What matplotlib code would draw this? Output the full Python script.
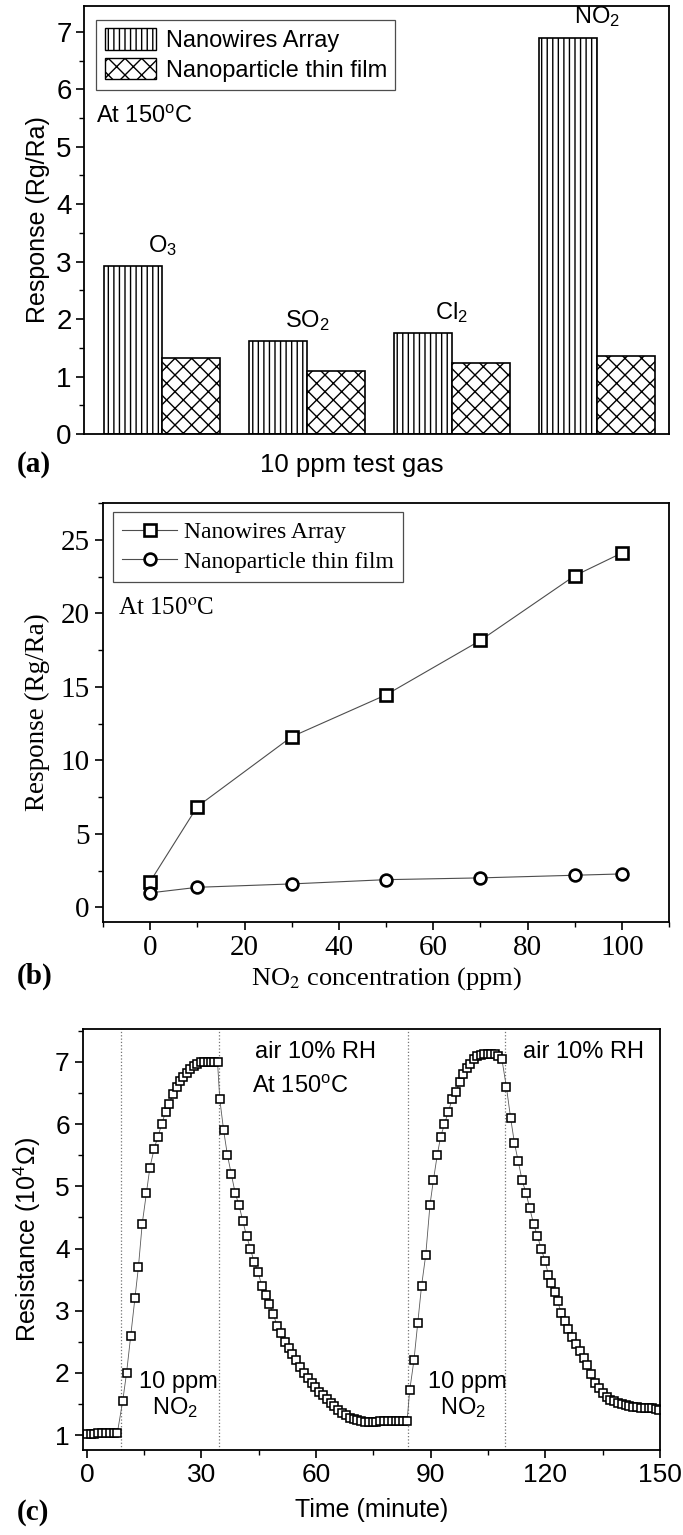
import numpy as np
import matplotlib
matplotlib.use('Agg')
import matplotlib.pyplot as plt
from matplotlib.ticker import MultipleLocator
from matplotlib.patches import Patch

W, H = 683, 1535
plt.rcParams['mathtext.fontset'] = 'custom'
plt.rcParams['mathtext.rm'] = 'Liberation Sans'
plt.rcParams['mathtext.it'] = 'Liberation Sans:italic'
plt.rcParams['mathtext.bf'] = 'Liberation Sans:bold'
plt.rcParams['hatch.linewidth'] = 1.0

SANS = ['Liberation Sans', 'DejaVu Sans']
SERIF = ['Liberation Serif', 'DejaVu Serif']

# ---------------- data: panel (a) ----------------
gases = ['O$_3$', 'SO$_2$', 'Cl$_2$', 'NO$_2$']
nanowire_resp = [2.92, 1.62, 1.75, 6.90]
nanoparticle_resp = [1.32, 1.10, 1.24, 1.35]

# ---------------- data: panel (b) ----------------
no2_ppm = [0, 10, 30, 50, 70, 90, 100]
nanowire_curve = [1.75, 6.85, 11.6, 14.45, 18.15, 22.55, 24.1]
nanoparticle_curve = [0.98, 1.36, 1.59, 1.88, 2.0, 2.18, 2.27]

# ---------------- data: panel (c) ----------------
base_t = [0, 1, 2, 3, 4, 5, 6, 7, 8]
base_r = [1.02, 1.02, 1.02, 1.03, 1.03, 1.03, 1.04, 1.04, 1.04]
rise1_t = [9.4, 10.4, 11.5, 12.6, 13.5, 14.5, 15.6, 16.5, 17.6, 18.6, 19.6, 20.6, 21.5,
           22.6, 23.5, 24.4, 25.3, 26.2, 27.1, 28.0, 28.9, 29.8, 30.7, 31.6, 32.5, 33.4, 34.2]
rise1_r = [1.55, 2.0, 2.6, 3.2, 3.7, 4.4, 4.9, 5.3, 5.6, 5.8, 6.0, 6.2, 6.33,
           6.48, 6.6, 6.69, 6.76, 6.82, 6.88, 6.93, 6.97, 7.0, 7.0, 7.0, 7.0, 7.0, 7.0]
decay1_t = [34.8, 35.8, 36.8, 37.8, 38.8, 39.8, 40.8, 41.8, 42.8, 43.8, 44.8, 45.8, 46.8,
            47.8, 48.8, 49.8, 50.8, 51.8, 52.8, 53.8, 54.8, 55.8, 56.8, 57.8, 58.8, 59.8,
            60.8, 61.8, 62.8, 63.8, 64.8, 65.8, 66.8, 67.8, 68.8, 69.8, 70.8, 71.8]
decay1_r = [6.4, 5.9, 5.5, 5.2, 4.9, 4.7, 4.45, 4.2, 4.0, 3.78, 3.62, 3.4, 3.25,
            3.1, 2.95, 2.75, 2.64, 2.5, 2.4, 2.3, 2.2, 2.1, 2.0, 1.92, 1.84, 1.77,
            1.7, 1.64, 1.58, 1.52, 1.46, 1.41, 1.36, 1.32, 1.28, 1.26, 1.24, 1.22]
flat_t = [72.8, 73.8, 74.8, 75.8, 76.8, 77.8, 78.8, 79.8, 80.8, 81.8, 82.8, 83.8]
flat_r = [1.21, 1.21, 1.21, 1.21, 1.22, 1.22, 1.22, 1.22, 1.22, 1.22, 1.22, 1.22]
rise2_t = [84.5, 85.6, 86.6, 87.6, 88.7, 89.8, 90.7, 91.7, 92.6, 93.6, 94.6, 95.6, 96.6,
           97.6, 98.5, 99.4, 100.3, 101.3, 102.2, 103.1, 104.0, 104.9, 105.8, 106.7, 107.6, 108.6]
rise2_r = [1.72, 2.2, 2.8, 3.4, 3.9, 4.7, 5.1, 5.5, 5.8, 6.0, 6.2, 6.4, 6.52,
           6.68, 6.81, 6.9, 6.96, 7.05, 7.09, 7.11, 7.12, 7.13, 7.13, 7.12, 7.1, 7.05]
decay2_t = [109.8, 110.9, 111.9, 112.9, 113.9, 114.9, 115.9, 116.9, 117.9, 118.9, 119.9,
            120.8, 121.6, 122.4, 123.2, 124.2, 125.1, 126.0, 127.0, 128.0, 129.0, 130.0,
            131.0, 132.0, 133.0, 134.0, 135.0, 136.0, 137.0, 138.0, 139.0, 140.0, 141.0,
            142.0, 143.0, 144.0, 145.0, 146.0, 147.0, 148.0, 149.0, 149.8]
decay2_r = [6.6, 6.1, 5.7, 5.4, 5.1, 4.9, 4.65, 4.4, 4.2, 4.0, 3.8,
            3.58, 3.45, 3.3, 3.15, 2.96, 2.83, 2.71, 2.58, 2.46, 2.35, 2.24,
            2.12, 1.99, 1.84, 1.76, 1.68, 1.62, 1.57, 1.54, 1.52, 1.5, 1.48,
            1.46, 1.45, 1.45, 1.44, 1.44, 1.43, 1.43, 1.42, 1.41]
switch_times = [8.9, 34.5, 84.0, 109.4]

time_min = base_t + rise1_t + decay1_t + flat_t + rise2_t + decay2_t
resistance = base_r + rise1_r + decay1_r + flat_r + rise2_r + decay2_r

fig = plt.figure(figsize=(W / 100, H / 100), dpi=100)


def axes_px(l, t, r, b):
    return fig.add_axes([l / W, 1 - b / H, (r - l) / W, (b - t) / H])


def style_spines(ax, lw=1.3):
    for s in ax.spines.values():
        s.set_linewidth(lw)
        s.set_color('black')


# ================= panel (a) =================
ax1 = axes_px(84, 6, 669, 434)
xg = np.arange(1, len(gases) + 1)
ax1.bar(xg - 0.2, nanowire_resp, width=0.4, color='white', edgecolor='black',
        hatch='|||', linewidth=1.2)
ax1.bar(xg + 0.2, nanoparticle_resp, width=0.4, color='white', edgecolor='black',
        hatch='xx', linewidth=1.2)
ax1.set_xlim(0.46, 4.5)
ax1.set_ylim(0, 7.45)
ax1.set_xticks([])
ax1.yaxis.set_major_locator(MultipleLocator(1))
ax1.yaxis.set_minor_locator(MultipleLocator(0.5))
ax1.tick_params(axis='y', which='major', direction='out', length=6, width=1.2,
                labelsize=20, pad=3)
ax1.tick_params(axis='y', which='minor', direction='out', length=3.5, width=1.0)
for lab in ax1.get_yticklabels():
    lab.set_family(SANS)
style_spines(ax1)
for xi, v, g in zip(xg, nanowire_resp, gases):
    ax1.text(xi, v + 0.36, g, ha='center', va='center', fontsize=17, family=SANS)
ax1.text(0.54, 5.52, 'At 150$^\\mathrm{o}$C', ha='left', va='center', fontsize=17,
         family=SANS)
h_a = [Patch(facecolor='white', edgecolor='black', hatch='|||', label='Nanowires Array'),
       Patch(facecolor='white', edgecolor='black', hatch='xx', label='Nanoparticle thin film')]
leg = ax1.legend(handles=h_a, loc='upper left', bbox_to_anchor=(0.021, 0.967),
                 borderaxespad=0, fancybox=False, edgecolor='0.3', framealpha=1,
                 prop={'family': SANS, 'size': 17}, handlelength=2.2,
                 handleheight=1.0, handletextpad=0.4, borderpad=0.35, labelspacing=0.25)
leg.get_frame().set_linewidth(0.9)
ax1.set_ylabel('Response (Rg/Ra)', fontsize=18, family=SANS)
ax1.yaxis.set_label_coords((50 - 84) / 585, 0.5)
fig.text(352 / W, 1 - 465 / H, '10 ppm test gas', ha='center', va='center',
         fontsize=18.5, family=SANS)
fig.text(17 / W, 1 - 465 / H, '(a)', ha='left', va='center', fontsize=21,
         family=SERIF, fontweight='bold')

# ================= panel (b) =================
ax2 = axes_px(103, 503, 669, 922)
ax2.plot(no2_ppm, nanowire_curve, '-', color='0.3', lw=0.8, marker='s', ms=8.5,
         mfc='white', mec='black', mew=1.9, label='Nanowires Array')
ax2.plot(no2_ppm, nanoparticle_curve, '-', color='0.3', lw=0.8, marker='o', ms=8.5,
         mfc='white', mec='black', mew=1.9, label='Nanoparticle thin film')
ax2.set_xlim(-10, 110)
ax2.set_ylim(-1, 27.5)
ax2.xaxis.set_major_locator(MultipleLocator(20))
ax2.xaxis.set_minor_locator(MultipleLocator(10))
ax2.yaxis.set_major_locator(MultipleLocator(5))
ax2.yaxis.set_minor_locator(MultipleLocator(2.5))
ax2.tick_params(which='major', direction='out', length=6, width=1.2, labelsize=21,
                top=False, right=False)
ax2.tick_params(which='minor', direction='out', length=3.5, width=1.0,
                top=False, right=False)
for lab in ax2.get_xticklabels() + ax2.get_yticklabels():
    lab.set_family(SERIF)
style_spines(ax2)
leg2 = ax2.legend(loc='upper left', bbox_to_anchor=(0.0177, 0.979), borderaxespad=0,
                  fancybox=False, edgecolor='0.3', framealpha=1,
                  prop={'family': SERIF, 'size': 17},
                  handlelength=2.3, handletextpad=0.3, borderpad=0.4, labelspacing=0.35)
leg2.get_frame().set_linewidth(0.9)
ax2.text(-6.8, 20.3, 'At 150$^\\mathrm{o}$C', ha='left', va='center', fontsize=18,
         family=SERIF, math_fontfamily='stix')
ax2.set_ylabel('Response (Rg/Ra)', fontsize=19.5, family=SERIF)
ax2.yaxis.set_label_coords((50 - 103) / 566, 0.5)
ax2.set_xlabel('NO$_2$ concentration (ppm)', fontsize=19, family=SERIF,
               math_fontfamily='stix')
ax2.xaxis.set_label_coords(0.5, -(965 - 922) / 419)
fig.text(17 / W, 1 - 976 / H, '(b)', ha='left', va='center', fontsize=21,
         family=SERIF, fontweight='bold')

# ================= panel (c) =================
ax3 = axes_px(83, 1029, 660, 1450)
for ts in switch_times:
    ax3.axvline(ts, color='0.45', ls=':', lw=0.9, zorder=0)
ax3.plot(time_min, resistance, '-', color='0.35', lw=0.6, marker='s', ms=6,
         mfc='white', mec='black', mew=1.15)
ax3.set_xlim(-1, 150)
ax3.set_ylim(0.76, 7.53)
ax3.xaxis.set_major_locator(MultipleLocator(30))
ax3.xaxis.set_minor_locator(MultipleLocator(15))
ax3.yaxis.set_major_locator(MultipleLocator(1))
ax3.yaxis.set_minor_locator(MultipleLocator(0.5))
ax3.tick_params(which='major', direction='out', length=6, width=1.2, labelsize=19,
                top=False, right=False)
ax3.tick_params(which='minor', direction='out', length=3.5, width=1.0,
                top=False, right=False)
for lab in ax3.get_xticklabels() + ax3.get_yticklabels():
    lab.set_family(SANS)
style_spines(ax3)
ax3.text(44.0, 7.16, 'air 10% RH', ha='left', va='center', fontsize=17, family=SANS)
ax3.text(43.3, 6.6, 'At 150$^\\mathrm{o}$C', ha='left', va='center', fontsize=17,
         family=SANS)
ax3.text(114.2, 7.16, 'air 10% RH', ha='left', va='center', fontsize=17, family=SANS)
ax3.text(24.0, 1.86, '10 ppm', ha='center', va='center', fontsize=17, family=SANS)
ax3.text(23.0, 1.45, 'NO$_2$', ha='center', va='center', fontsize=17, family=SANS)
ax3.text(99.6, 1.86, '10 ppm', ha='center', va='center', fontsize=17, family=SANS)
ax3.text(98.5, 1.45, 'NO$_2$', ha='center', va='center', fontsize=17, family=SANS)
ax3.set_ylabel('Resistance (10$^4$\u03a9)', fontsize=18, family=SANS)
ax3.yaxis.set_label_coords((43 - 83) / 577, 0.5)
ax3.set_xlabel('Time (minute)', fontsize=18, family=SANS)
ax3.xaxis.set_label_coords(0.5, -(1498 - 1450) / 421)
fig.text(17 / W, 1 - 1512 / H, '(c)', ha='left', va='center', fontsize=21,
         family=SERIF, fontweight='bold')

fig.savefig('out.png', dpi=100)
